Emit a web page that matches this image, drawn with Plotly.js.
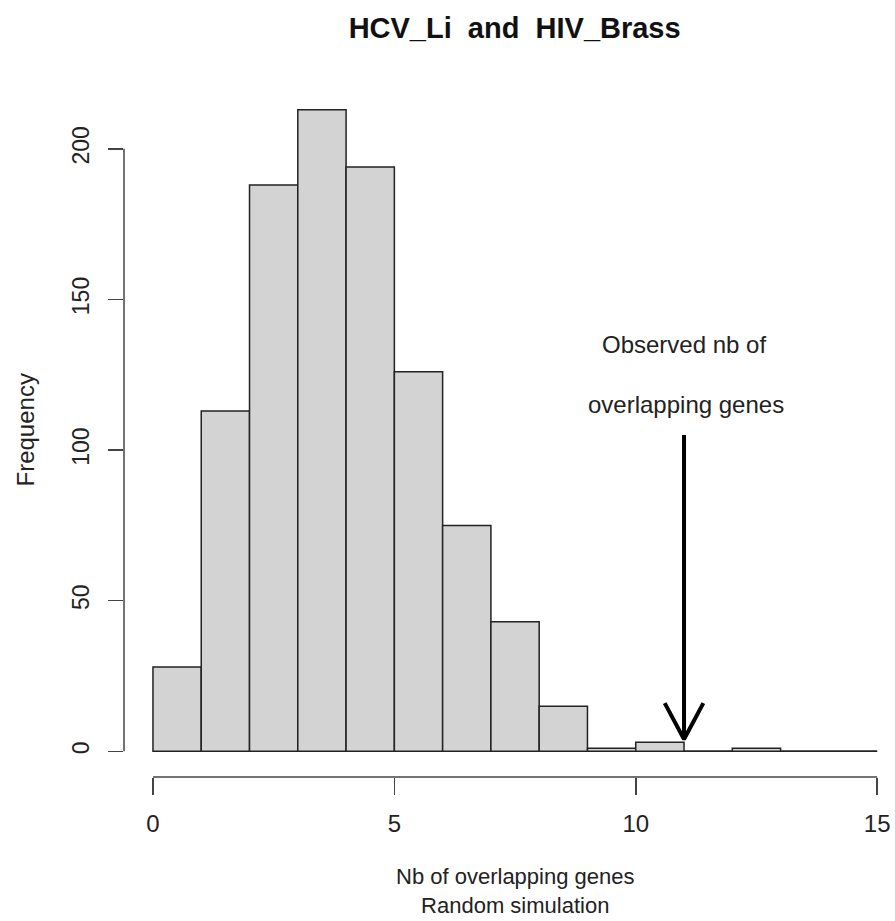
<!DOCTYPE html>
<html><head><meta charset="utf-8">
<script src="https://cdn.plot.ly/plotly-3.0.1.min.js"></script>
<style>body{margin:0;background:#fff}#c{width:895px;height:921px}</style>
</head><body><div id="c"></div>
<script>
// Histogram bins (left edges, width 1) and counts
const binStarts = [0,1,2,3,4,5,6,7,8,9,10,11,12,13,14];
const counts    = [28,113,188,213,194,126,75,43,15,1,3,0,1,0,0];
const xTicks = [0,5,10,15];
const yTicks = [0,50,100,150,200];
// Observed value arrow annotation
const observedX = 11;
const arrowTopY = 105;
const arrowTipY = 4;
const arrowWingDX = 0.4;
const arrowWingDY = 12;
const noteLines = ["Observed nb of","overlapping genes"];
const noteX = [11, 11.05];
const noteY = [135, 115];
const xTitleLines = ["Nb of overlapping genes","Random simulation"];

const centers = binStarts.map(b => b + 0.5);
const FONT = "Liberation Sans, Arial, sans-serif";

const bars = {
  type: "bar", x: centers, y: counts, width: 1,
  marker: {color: "#d3d3d3", line: {color: "#222", width: 1.5}},
  hoverinfo: "x+y", showlegend: false
};
const zeroX = [], zeroY = [];
binStarts.forEach((b,i) => { if (counts[i] === 0) { zeroX.push(b, b+1, null); zeroY.push(0,0,null); } });
const zeroLine = {type:"scatter", mode:"lines", x: zeroX, y: zeroY, line:{color:"#222", width:1.5}, showlegend:false, hoverinfo:"skip"};

const arrow = {
  type: "scatter", mode: "lines",
  x: [observedX, observedX, null, observedX-arrowWingDX, observedX, observedX+arrowWingDX],
  y: [arrowTopY, arrowTipY, null, arrowTipY+arrowWingDY, arrowTipY, arrowTipY+arrowWingDY],
  line: {color: "#000", width: 4}, showlegend: false, hoverinfo: "skip"
};

const annotations = noteLines.map((t,i) => ({text: t, x: noteX[i], y: noteY[i], xref: "x", yref: "y", showarrow: false,
          xanchor: "center", yanchor: "middle", font: {family: FONT, size: 24, color: "#222"}}));
const midX = (xTicks[0] + xTicks[xTicks.length-1]) / 2;
annotations.push({text: xTitleLines.join("<br>"), x: midX, xref: "x", y: 0, yref: "paper",
          yshift: -114, showarrow: false, xanchor: "center", yanchor: "middle",
          font: {family: FONT, size: 22, color: "#222"}});
annotations.push({text: "Frequency", x: 0, xref: "paper", xshift: -99, y: 0.5, yref: "paper", textangle: -90,
          showarrow: false, xanchor: "center", yanchor: "middle", font: {family: FONT, size: 24, color: "#222"}});

const layout = {
  width: 895, height: 921,
  margin: {l: 124, r: 0, t: 84, b: 144},
  paper_bgcolor: "#fff", plot_bgcolor: "#fff",
  font: {family: FONT, size: 24, color: "#222"},
  title: {text: "<b>HCV_Li  and  HIV_Brass</b>", x: 0.575, xanchor: "center", y: 0.9696, yanchor: "middle",
          font: {family: FONT, size: 29, color: "#111"}},
  xaxis: {range: [-0.6, 15.37], showgrid: false, zeroline: false, showline: false,
          tickmode: "array", tickvals: xTicks, ticktext: xTicks.map(String),
          ticks: "outside", ticklen: 17, tickwidth: 1.5, tickcolor: "#444",
          ticklabelstandoff: 8, tickfont: {family: FONT, size: 24, color: "#222"}},
  yaxis: {range: [-8.52, 221.52], showgrid: false, zeroline: false, showline: false,
          tickmode: "array", tickvals: yTicks, ticktext: yTicks.map(String), tickangle: -90,
          ticks: "outside", ticklen: 15, tickwidth: 1.5, tickcolor: "#444",
          ticklabelstandoff: 10, tickfont: {family: FONT, size: 23, color: "#222"}},
  shapes: [
    {type: "line", xref: "x", yref: "paper", x0: xTicks[0], x1: xTicks[xTicks.length-1], y0: 0, y1: 0, line: {color: "#444", width: 1.5}},
    {type: "line", xref: "paper", yref: "y", x0: 0, x1: 0, y0: yTicks[0], y1: yTicks[yTicks.length-1], line: {color: "#444", width: 1.5}}
  ],
  annotations: annotations,
  bargap: 0
};
Plotly.newPlot("c", [bars, zeroLine, arrow], layout, {staticPlot: true});
</script></body></html>
